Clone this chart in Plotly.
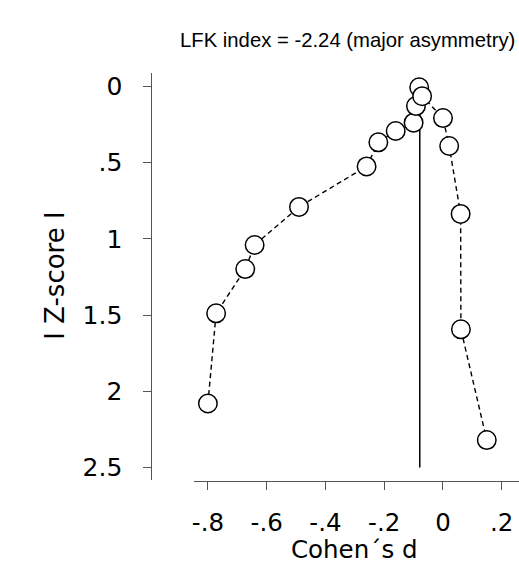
import plotly.graph_objects as go

# Data
cohens_d = [-0.800, -0.772, -0.673, -0.641, -0.490, -0.260, -0.220, -0.161, -0.100,
            -0.092, -0.081, -0.071, 0.000, 0.021, 0.060, 0.061, 0.149]
abs_z = [2.080, 1.488, 1.198, 1.040, 0.790, 0.524, 0.366, 0.292, 0.237,
         0.128, 0.005, 0.063, 0.207, 0.390, 0.836, 1.593, 2.320]
ref_line_x = [-0.079, -0.079]
ref_line_y = [0.0, 2.5]

x_tickvals = [-0.8, -0.6, -0.4, -0.2, 0.0, 0.2]
x_ticktext = ["-.8", "-.6", "-.4", "-.2", "0", ".2"]
y_tickvals = [0, 0.5, 1, 1.5, 2, 2.5]
y_ticktext = ["0", ".5", "1", "1.5", "2", "2.5"]

title_text = "LFK index = -2.24 (major asymmetry)"
x_title = "Cohen´s d"
y_title = "I Z-score I"

W, H = 519, 568
FONT = "DejaVu Sans"

fig = go.Figure()
fig.add_trace(go.Scatter(x=ref_line_x, y=ref_line_y, mode="lines",
                         line=dict(color="black", width=1.5), hoverinfo="skip",
                         showlegend=False))
fig.add_trace(go.Scatter(x=cohens_d, y=abs_z, mode="lines+markers",
                         line=dict(color="black", width=1.4, dash="5px,3.5px"),
                         marker=dict(size=18.5, color="white",
                                     line=dict(color="black", width=1.5)),
                         showlegend=False))

axis_col = "#555555"
fig.update_layout(
    width=W, height=H,
    margin=dict(l=0, r=0, t=0, b=0),
    paper_bgcolor="white", plot_bgcolor="white",
    showlegend=False,
    font=dict(family=FONT, size=25, color="black"),
    xaxis=dict(domain=[193 / W, 1.0],
               range=[(193 - 442.7) / 295, (519 - 442.7) / 295],
               anchor="free", position=(H - 482.3) / H,
               tickvals=x_tickvals, ticktext=x_ticktext,
               ticks="outside", ticklen=8, tickwidth=1.2, tickcolor=axis_col,
               showline=True, linecolor=axis_col, linewidth=1.2,
               showgrid=False, zeroline=False,
               ticklabelstandoff=12,
               tickfont=dict(family=FONT, size=24.5, color="black")),
    yaxis=dict(domain=[(H - 481.7) / H, (H - 72.7) / H],
               range=[(481.7 - 86) / 153.2, (72.7 - 86) / 153.2],
               anchor="free", position=150 / W,
               tickvals=y_tickvals, ticktext=y_ticktext,
               ticks="outside", ticklen=8, tickwidth=1.2, tickcolor=axis_col,
               showline=True, linecolor=axis_col, linewidth=1.2,
               showgrid=False, zeroline=False,
               ticklabelstandoff=16,
               tickfont=dict(family=FONT, size=25, color="black")),
    annotations=[
        dict(text=title_text, x=177 / W, y=(H - 39) / H, xref="paper", yref="paper",
             xanchor="left", yanchor="middle", showarrow=False,
             font=dict(family="Liberation Sans", size=20.3, color="black")),
        dict(text=x_title, x=354 / W, y=(H - 551) / H, xref="paper", yref="paper",
             xanchor="center", yanchor="middle", showarrow=False,
             font=dict(family=FONT, size=24.5, color="black")),
        dict(text=y_title, x=53 / W, y=(H - 276.5) / H, xref="paper", yref="paper",
             xanchor="center", yanchor="middle", showarrow=False, textangle=-90,
             font=dict(family=FONT, size=26, color="black")),
    ],
)

fig.write_html("out.html")
